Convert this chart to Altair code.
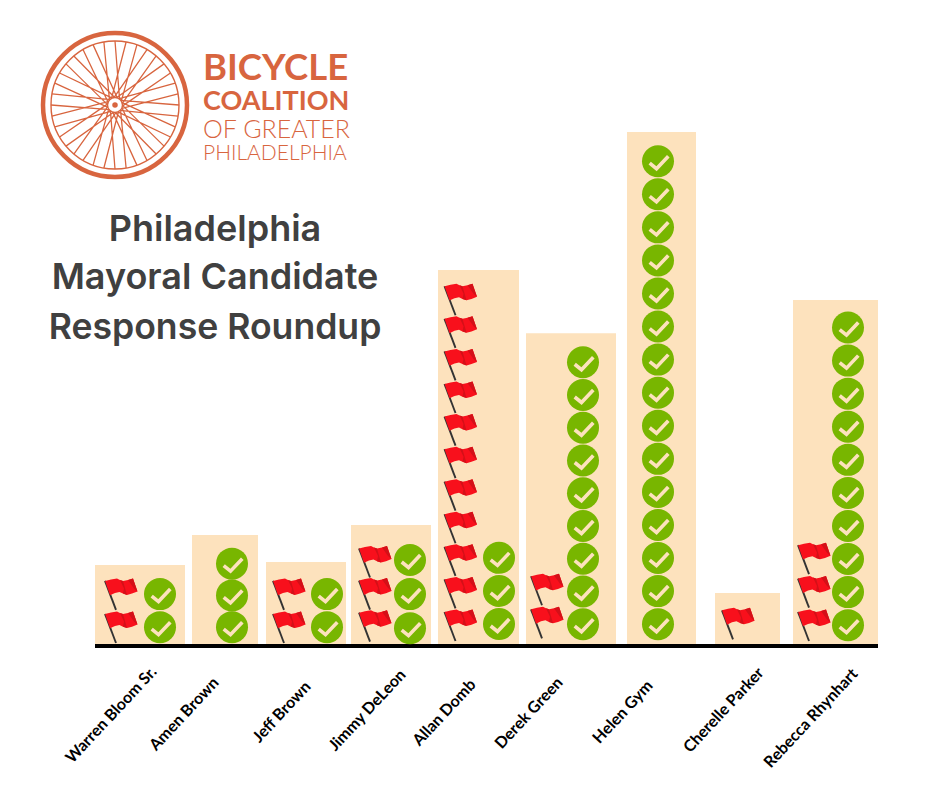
import math
import altair as alt
import pandas as pd

candidates = ["Warren Bloom Sr.", "Amen Brown", "Jeff Brown", "Jimmy DeLeon", "Allan Domb",
              "Derek Green", "Helen Gym", "Cherelle Parker", "Rebecca Rhynhart"]
flag_counts = [2, 0, 2, 3, 11, 2, 0, 1, 3]
check_counts = [2, 3, 2, 3, 3, 9, 15, 0, 10]
bar_heights = [2.45, 3.36, 2.54, 3.66, 11.37, 9.46, 15.54, 1.60, 10.46]
bar_left = [95, 192, 266, 351, 438, 526, 627, 715, 793]
bar_right = [185, 258, 346, 431, 519, 616, 696, 780, 878]
flag_x = [121, None, 289, 375, 460.5, 547, None, 738, 814]
check_x = [160, 232, 327, 410, 499, 583, 658, None, 848]
flag_base = [0.56, 0, 0.56, 0.60, 0.62, 0.70, 0, 0.67, 0.62]
flag_step = [1.0, 1, 1.0, 0.97, 0.985, 1.0, 1, 1, 1.01]
check_base = [0.57, 0.57, 0.57, 0.54, 0.665, 0.66, 0.66, 0, 0.63]
check_step = [1.0, 0.96, 1.0, 1.03, 1.0, 0.99, 1.0, 1, 1.0]
label_x = [154, 216, 308, 403, 473, 560, 650, 761, 855]
label_y = [-0.70, -1.03, -1.15, -0.79, -1.09, -1.03, -1.12, -0.73, -0.76]

title_lines = ["Philadelphia", "Mayoral Candidate", "Response Roundup"]
logo_lines = ["BICYCLE", "COALITION", "OF GREATER", "PHILADELPHIA"]

BAR = "#fde2bd"
GREEN = "#78b600"
ORANGE = "#d8653f"

bars = pd.DataFrame({"name": candidates, "left": bar_left, "right": bar_right, "h": bar_heights,
                     "zero": [0] * 9, "lx": label_x, "ly": label_y})
flags = pd.DataFrame([
    {"name": n, "x": x, "y": b + i * s}
    for n, x, b, s, c in zip(candidates, flag_x, flag_base, flag_step, flag_counts) for i in range(c)
])
checks = pd.DataFrame([
    {"name": n, "x": x, "y": b + i * s}
    for n, x, b, s, c in zip(candidates, check_x, check_base, check_step, check_counts) for i in range(c)
])
axis_line = pd.DataFrame({"a": [95], "b": [878], "y": [0]})

X = alt.Scale(domain=[8, 932], nice=False, zero=False)
Y = alt.Scale(domain=[-4.052, 19.293], nice=False, zero=False)

def qx(f):
    return alt.X(f, type="quantitative", scale=X, axis=None)

def qy(f):
    return alt.Y(f, type="quantitative", scale=Y, axis=None)

bar_layer = alt.Chart(bars).mark_rect(color=BAR).encode(
    x=qx("left"), x2="right", y=qy("zero"), y2="h")
rule_layer = alt.Chart(axis_line).mark_rule(color="#000000", strokeWidth=4).encode(
    x=qx("a"), x2="b", y=qy("y"))

FLAG_BODY = ("M-16 -13.5 L-10 -15 L-4 -16 L-1 -14.5 L2 -13.5 L7 -14.5 L12 -16 "
             "L16.5 -3 L11 -0.8 L6 0.5 L2 -0.8 L-1.5 -2.5 L-6 -1.5 L-11 0.8 Z")
FLAG_FOLD = "M-1 -14.5 L2 -13.5 L6 0.5 L2 -0.8 L3 -6 Z M7 -14.5 L12 -16 L16.5 -3 L13 -6 Z"
FLAG_POLE = "M-16 -13.5 L-5 15.5"
CHECK = "M-8.3 2 L-1.5 7.5 L10.3 -5"

def icon(df, shape, **kw):
    return alt.Chart(df).mark_point(shape=shape, size=4, opacity=1, **kw).encode(
        x=qx("x"), y=qy("y"))

pole_layer = icon(flags, FLAG_POLE, filled=False, stroke="#333333", strokeWidth=1.9)
body_layer = icon(flags, FLAG_BODY, filled=True, fill="#f8101c", strokeWidth=0)
fold_layer = icon(flags, FLAG_FOLD, filled=True, fill="#d41018", strokeWidth=0)
disc_layer = alt.Chart(checks).mark_point(shape="circle", size=1024, filled=True, fill=GREEN,
                                          opacity=1, strokeWidth=0).encode(x=qx("x"), y=qy("y"))
tick_layer = icon(checks, CHECK, filled=False, stroke=BAR, strokeWidth=3.6)

label_layer = alt.Chart(bars).mark_text(angle=313, align="right", baseline="middle", font="Lato",
                                        fontWeight="bold", fontSize=16, color="#000000").encode(
    x=qx("lx"), y=qy("ly"), text="name:N")

# logo wheel: drawing geometry, not data
cx_px, cy_px = 107, 97
parts = []
n_sp = 36
for k in range(n_sp):
    a = 2 * math.pi * k / n_sp
    off = 0.30 if k % 2 else -0.30
    hub_a = a + off * 2.4
    parts.append(f"M{64 * math.cos(a):.2f} {64 * math.sin(a):.2f} "
                 f"L{7 * math.cos(hub_a):.2f} {7 * math.sin(hub_a):.2f}")
SPOKES = " ".join(parts)
one = pd.DataFrame({"k": [1]})

def wheel(shape, size, **kw):
    return alt.Chart(one).mark_point(shape=shape, size=size, opacity=1, **kw).encode(
        x=alt.value(cx_px), y=alt.value(cy_px))

wheel_layers = [
    wheel(SPOKES, 4, filled=False, stroke=ORANGE, strokeWidth=1.3),
    wheel("circle", 144 * 144, filled=False, stroke=ORANGE, strokeWidth=4.5),
    wheel("circle", 128 * 128, filled=False, stroke=ORANGE, strokeWidth=1.4),
    wheel("circle", 15 * 15, filled=True, fill="#ffffff", stroke=ORANGE, strokeWidth=1.4),
    wheel("circle", 5.5 * 5.5, filled=True, fill=ORANGE, strokeWidth=0),
]

def line_text(txt, px, py, size, weight, color, font, align="left"):
    return alt.Chart(pd.DataFrame({"t": [txt]})).mark_text(
        font=font, fontSize=size, fontWeight=weight, color=color, align=align, baseline="alphabetic"
    ).encode(text="t:N", x=alt.value(px), y=alt.value(py))

logo_text = [
    line_text(logo_lines[0], 195, 72, 36.5, "bold", ORANGE, "Lato"),
    line_text(logo_lines[1], 195, 102, 27, "bold", ORANGE, "Lato"),
    line_text(logo_lines[2], 195, 130, 25, 300, ORANGE, "Lato"),
    line_text(logo_lines[3], 195, 152, 21, 300, ORANGE, "Lato"),
]
title_text = [
    line_text(title_lines[0], 207, 232.5, 36, 600, "#404040", "Inter", "center"),
    line_text(title_lines[1], 207, 281, 36, 600, "#404040", "Inter", "center"),
    line_text(title_lines[2], 207, 330.5, 35.6, 600, "#404040", "Inter", "center"),
]

chart = alt.layer(
    bar_layer, rule_layer, pole_layer, body_layer, fold_layer, disc_layer, tick_layer, label_layer,
    *wheel_layers, *logo_text, *title_text
).properties(
    width=924, height=772, padding=0, autosize=alt.AutoSizeParams(type="none"),
    background="#ffffff"
).configure_view(stroke=None)

chart.save("out.html", embed_options={"renderer": "svg", "actions": False})
